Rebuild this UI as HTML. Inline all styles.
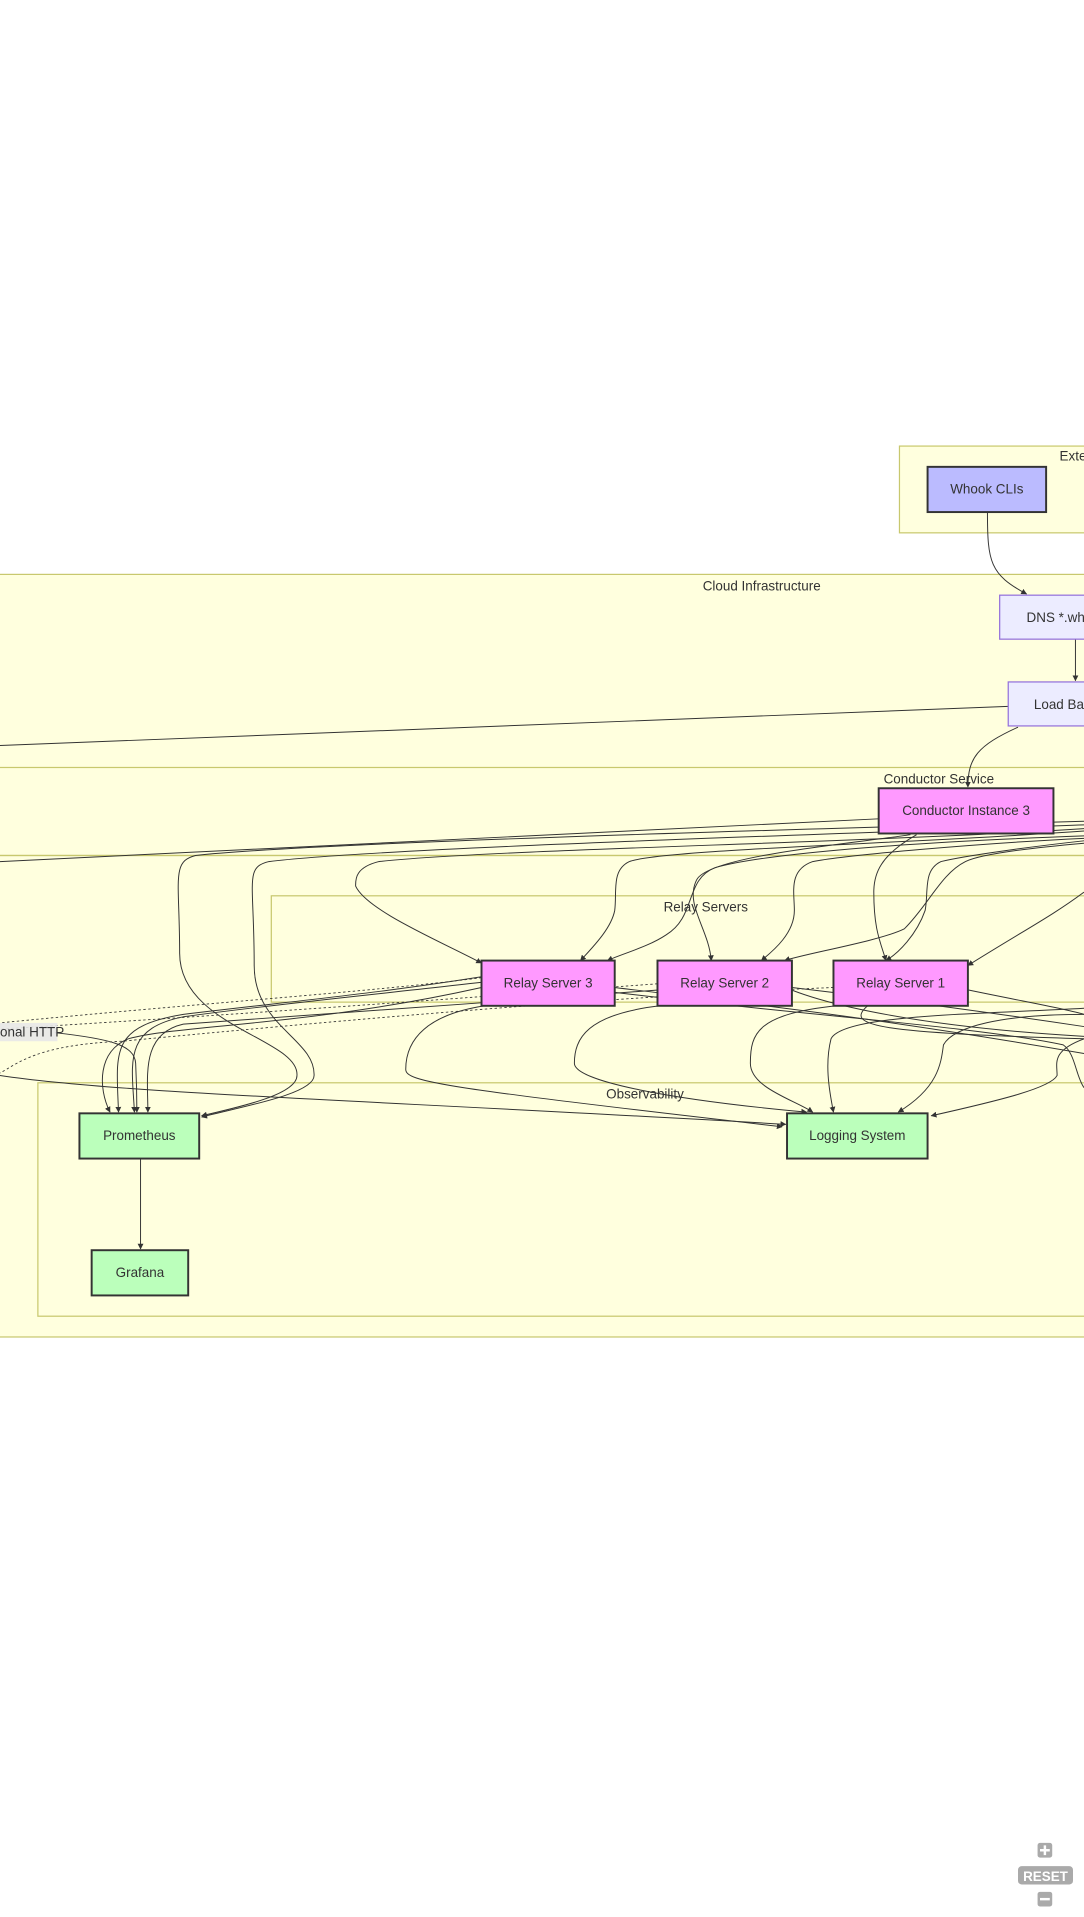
<!DOCTYPE html>
<html><head><meta charset="utf-8"><style>
html,body{margin:0;padding:0;background:#fff;width:1084px;height:1917px;overflow:hidden}
svg{display:block}
text{font-family:"Trebuchet MS","Liberation Sans",sans-serif;font-size:11px;fill:#333}
.c{fill:#ffffde;stroke:#c8c86e;stroke-width:1}
.e{fill:none;stroke:#333;stroke-width:0.8}
.d{fill:none;stroke:#333;stroke-width:0.7;stroke-dasharray:2 2}
</style></head><body>
<svg width="1084" height="1917" viewBox="0 0 887 1568.6" xmlns="http://www.w3.org/2000/svg">
<defs><marker id="a" viewBox="0 0 10 10" refX="9" refY="5" markerWidth="6" markerHeight="6" orient="auto"><path d="M0,0L10,5L0,10z" fill="#333"/></marker></defs>
<rect class="c" x="736" y="365" width="160" height="71"/>
<text x="867" y="377">Exte</text>
<rect class="c" x="-5" y="470" width="900" height="624"/>
<text x="575" y="483">Cloud Infrastructure</text>
<rect class="c" x="-5" y="628" width="900" height="72"/>
<text x="723" y="641">Conductor Service</text>
<line x1="0" y1="700" x2="887" y2="700" stroke="#c8c86e"/>
<rect class="c" x="222" y="733" width="680" height="87"/>
<text x="543" y="746">Relay Servers</text>
<rect class="c" x="31" y="886" width="870" height="191"/>
<text x="496" y="899">Observability</text>

<!-- edges -->
<path class="e" d="M808,419 C808,460 810,470 840,486" marker-end="url(#a)"/>
<path class="e" d="M880,523 L880,557" marker-end="url(#a)"/>
<path class="e" d="M825,578 L0,610"/>
<path class="e" d="M833,595 C800,610 792,620 792,644" marker-end="url(#a)"/>
<path class="e" d="M719,670 L0,705"/>
<path class="e" d="M887,672 C600,680 250,690 160,700 C140,705 147,720 147,780 C147,840 245,850 243,880 C243,895 200,905 165,913" marker-end="url(#a)"/>
<path class="e" d="M887,675 C600,685 300,695 220,705 C200,710 208,720 208,790 C208,840 258,850 257,880 C257,895 200,905 165,914" marker-end="url(#a)"/>
<path class="e" d="M887,678 C700,690 400,695 310,705 C290,710 291,720 291,725 C300,745 360,770 394,788" marker-end="url(#a)"/>
<path class="e" d="M887,680 C750,690 540,695 515,705 C500,712 505,730 503,745 C500,760 485,775 475,786" marker-end="url(#a)"/>
<path class="e" d="M745,683 C700,690 580,700 570,720 C560,740 580,760 582,786" marker-end="url(#a)"/>
<path class="e" d="M887,684 C720,690 620,700 585,710 C560,720 570,750 545,765 C530,775 510,780 497,786" marker-end="url(#a)"/>
<path class="e" d="M887,686 C800,690 690,700 665,705 C645,712 650,730 650,745 C650,765 630,780 623,786" marker-end="url(#a)"/>
<path class="e" d="M887,688 C850,692 790,700 770,705 C755,712 760,730 757,745 C750,765 735,780 725,786" marker-end="url(#a)"/>
<path class="e" d="M887,690 C830,695 800,700 790,705 C770,715 760,740 740,760 C720,770 660,780 642,786" marker-end="url(#a)"/>
<path class="e" d="M750,683 C720,700 715,715 715,730 C715,760 720,770 725,786" marker-end="url(#a)"/>
<path class="e" d="M887,730 C860,750 840,760 792,790" marker-end="url(#a)"/>
<path class="e" d="M420,795 C320,812 250,818 150,830 C90,840 95,860 97,910" marker-end="url(#a)"/>
<path class="e" d="M460,795 C400,805 250,818 150,832 C100,842 108,870 110,910" marker-end="url(#a)"/>
<path class="e" d="M540,810 C400,820 250,832 150,838 C115,846 121,880 121,910" marker-end="url(#a)"/>
<path class="e" d="M394,808 C250,840 150,838 105,850 C80,860 80,890 90,910" marker-end="url(#a)"/>
<path class="e" d="M45,845 C90,850 110,855 111,870 C112,890 112,900 112,910" marker-end="url(#a)"/>
<path class="d" d="M394,800 C300,812 150,822 0,837"/>
<path class="d" d="M538,805 C400,815 200,830 0,842"/>
<path class="d" d="M682,808 C520,815 350,828 100,852 C30,855 15,870 0,878"/>
<path class="e" d="M397,823 C350,830 332,850 332,875 C332,885 360,890 640,922" marker-end="url(#a)"/>
<path class="e" d="M0,880 C100,895 300,900 643,920" marker-end="url(#a)"/>
<path class="e" d="M540,823 C480,830 470,850 470,870 C470,885 550,900 660,910" marker-end="url(#a)"/>
<path class="e" d="M684,823 C620,830 614,845 614,870 C614,890 650,900 665,910" marker-end="url(#a)"/>
<path class="e" d="M887,825 C800,830 690,830 680,850 C675,870 678,890 682,910" marker-end="url(#a)"/>
<path class="e" d="M887,830 C820,830 780,840 772,855 C770,870 768,890 735,910" marker-end="url(#a)"/>
<path class="e" d="M887,850 C860,860 865,870 865,880 C860,890 820,900 762,913" marker-end="url(#a)"/>
<path class="e" d="M503,808 C600,820 700,830 887,862"/>
<path class="e" d="M503,812 C650,830 800,840 870,855 C880,862 880,880 887,890"/>
<path class="e" d="M620,795 C650,820 750,840 887,848"/>
<path class="e" d="M648,808 C750,820 820,830 887,840"/>
<path class="e" d="M710,823 C690,840 720,845 887,850"/>
<path class="e" d="M792,810 C840,820 870,825 887,830"/>
<path class="e" d="M115,948 L115,1022" marker-end="url(#a)"/>

<!-- nodes -->
<rect x="759" y="382" width="97" height="37" fill="#bbbbff" stroke="#333" stroke-width="1.6"/>
<text x="807.5" y="404" text-anchor="middle">Whook CLIs</text>
<rect x="818" y="487" width="80" height="36" fill="#ececff" stroke="#9370db"/>
<text x="840" y="509">DNS *.whoo</text>
<rect x="825" y="558" width="80" height="36" fill="#ececff" stroke="#9370db"/>
<text x="846" y="580">Load Bal</text>
<rect x="719" y="645" width="143" height="37" fill="#ff99ff" stroke="#333" stroke-width="1.6"/>
<text x="790.5" y="667" text-anchor="middle">Conductor Instance 3</text>
<rect x="394" y="786" width="109" height="37" fill="#ff99ff" stroke="#333" stroke-width="1.6"/>
<text x="448.5" y="808" text-anchor="middle">Relay Server 3</text>
<rect x="538" y="786" width="110" height="37" fill="#ff99ff" stroke="#333" stroke-width="1.6"/>
<text x="593" y="808" text-anchor="middle">Relay Server 2</text>
<rect x="682" y="786" width="110" height="37" fill="#ff99ff" stroke="#333" stroke-width="1.6"/>
<text x="737" y="808" text-anchor="middle">Relay Server 1</text>
<rect x="65" y="911" width="98" height="37" fill="#bbffbb" stroke="#333" stroke-width="1.6"/>
<text x="114" y="933" text-anchor="middle">Prometheus</text>
<rect x="75" y="1023" width="79" height="37" fill="#bbffbb" stroke="#333" stroke-width="1.6"/>
<text x="114.5" y="1045" text-anchor="middle">Grafana</text>
<rect x="644" y="911" width="115" height="37" fill="#bbffbb" stroke="#333" stroke-width="1.6"/>
<text x="701.5" y="933" text-anchor="middle">Logging System</text>
<rect x="-2" y="837" width="49" height="15" fill="#e8e8e8" opacity="0.9"/>
<text x="0" y="848">onal HTTP</text>

<!-- zoom controls -->
<rect x="849" y="1508" width="12" height="12" rx="2" fill="#aaa"/>
<path d="M851,1514h8M855,1510v8" stroke="#fff" stroke-width="2"/>
<rect x="833" y="1527" width="45" height="15" rx="3" fill="#aaa"/>
<text x="855.5" y="1539" text-anchor="middle" style="fill:#fff;font-weight:bold;font-size:11px">RESET</text>
<rect x="849" y="1548" width="12" height="12" rx="2" fill="#aaa"/>
<path d="M851,1554h8" stroke="#fff" stroke-width="2"/>
</svg>
</body></html>
